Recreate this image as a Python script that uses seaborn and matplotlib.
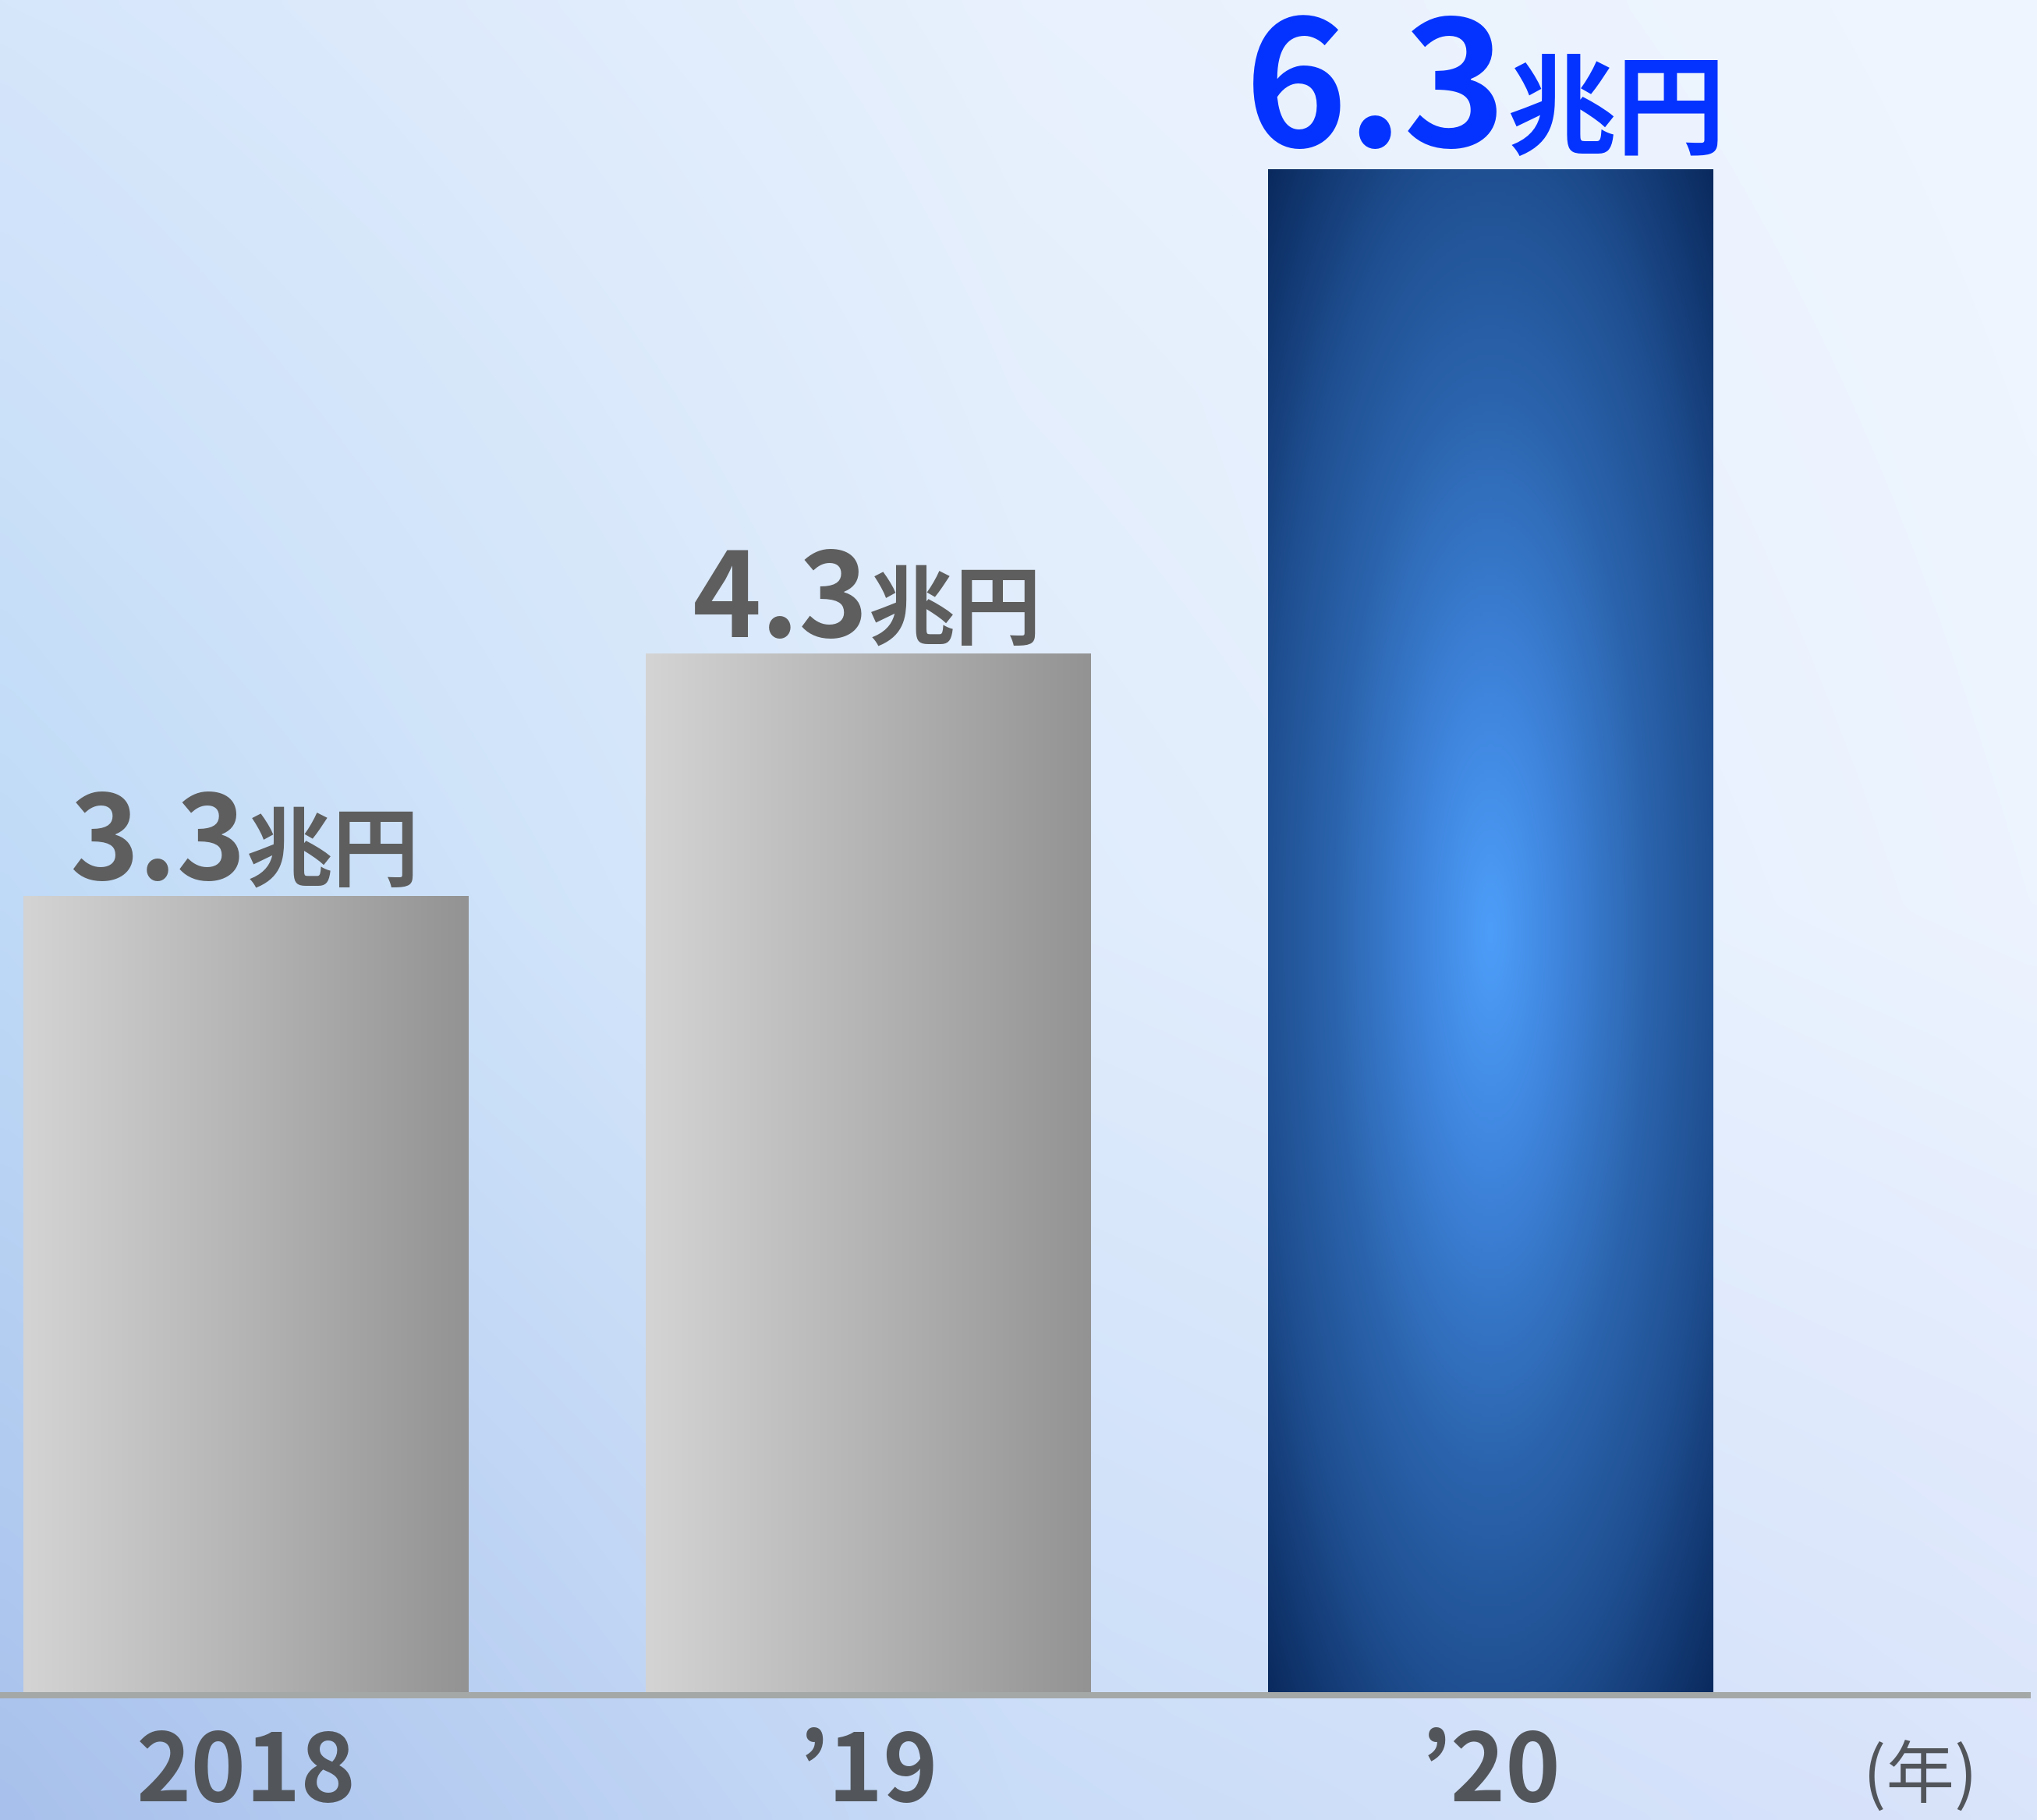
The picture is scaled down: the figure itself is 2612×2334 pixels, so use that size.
import numpy as np
import matplotlib
matplotlib.use("Agg")
import matplotlib.pyplot as plt
from matplotlib.colors import LinearSegmentedColormap, to_rgb
import seaborn as sns

# ---- data ----
years = ["2018", "\u201919", "\u201920"]
values = [3.3, 4.3, 6.3]
value_labels = ["3.3", "4.3", "6.3"]
unit_label = "兆円"
year_unit = "(年)"

sns.set_theme(style="white")
plt.rcParams['font.family'] = ['Noto Sans CJK JP', 'DejaVu Sans']

W, H = 2612, 2334
DPI = 100
fig = plt.figure(figsize=(W / DPI, H / DPI), dpi=DPI)

# ---- background gradient ----
bg_ax = fig.add_axes([0, 0, 1, 1], zorder=-10)
bg_ax.set_axis_off()
grid = np.array([
    [to_rgb("#d6e6fb"), to_rgb("#e8f1fd"), to_rgb("#f0f6ff")],
    [to_rgb("#bfdaf7"), to_rgb("#dfecfc"), to_rgb("#edf4ff")],
    [to_rgb("#a8c1ec"), to_rgb("#c9dcf8"), to_rgb("#dae4fb")],
])
ny, nx = 200, 200
yy = np.linspace(0, 2, ny)
xx = np.linspace(0, 2, nx)
img = np.zeros((ny, nx, 3))
for i, yv in enumerate(yy):
    r0 = min(int(yv), 1)
    fy = yv - r0
    for j, xv in enumerate(xx):
        c0 = min(int(xv), 1)
        fx = xv - c0
        top = grid[r0, c0] * (1 - fx) + grid[r0, c0 + 1] * fx
        bot = grid[r0 + 1, c0] * (1 - fx) + grid[r0 + 1, c0 + 1] * fx
        img[i, j] = top * (1 - fy) + bot * fy
bg_ax.imshow(img, extent=(0, 1, 0, 1), aspect='auto', interpolation='bicubic', origin='upper')
bg_ax.set_xlim(0, 1)
bg_ax.set_ylim(0, 1)

# ---- main axes ----
bottom_px = 2174
ax = fig.add_axes([0, (H - bottom_px) / H, 2600 / W, bottom_px / H])
ax.set_facecolor("none")
ax.patch.set_alpha(0)

bar_w = 0.7155
sns.barplot(x=years, y=values, width=bar_w, ax=ax, color="#999999", saturation=1)

grey_cmap = LinearSegmentedColormap.from_list("g", ["#d4d4d4", "#b4b4b4", "#939393"])
blue_cmap = LinearSegmentedColormap.from_list(
    "b", [(0.0, "#4d9ef9"), (0.22, "#3f85dd"), (0.5, "#2b64ad"), (0.72, "#1f4f91"), (1.0, "#0a2a5e")])

patches = list(ax.patches)
for k, p in enumerate(patches):
    x0, y0 = p.get_x(), p.get_y()
    w, h = p.get_width(), p.get_height()
    p.set_facecolor("none")
    p.set_edgecolor("none")
    if k < 2:
        grad = np.linspace(0, 1, 256)[None, :]
        im = ax.imshow(grad, cmap=grey_cmap, extent=(x0, x0 + w, y0, y0 + h),
                       aspect='auto', interpolation='bicubic', zorder=1, origin='lower')
    else:
        u = np.linspace(-1, 1, 300)[None, :]
        v = np.linspace(-1, 1, 400)[:, None]
        r = np.sqrt(u ** 2 + v ** 2) / np.sqrt(2)
        im = ax.imshow(r, cmap=blue_cmap, vmin=0, vmax=1, extent=(x0, x0 + w, y0, y0 + h),
                       aspect='auto', interpolation='bicubic', zorder=1, origin='lower')
    im.set_clip_path(p)

ax.set_xlim(-315.5 / 798, (2600 - 315.5) / 798)
ax.set_ylim(0, bottom_px / 310.6)

# value labels
num_sizes = [108, 108, 161]
unit_sizes = [80, 80, 101]
colors = ["#5e5e5e", "#5e5e5e", "#0433ff"]
gaps = [21, 21, 29]
for k, (val, lab) in enumerate(zip(values, value_labels)):
    ytxt = val + gaps[k] / 310.6
    xoff = 0.026 if k == 2 else 0.0
    ax.text(k + xoff, ytxt, lab, ha='right', va='baseline', fontsize=num_sizes[k],
            fontweight='bold', color=colors[k])
    ax.text(k + xoff, ytxt, unit_label, ha='left', va='baseline', fontsize=unit_sizes[k],
            fontweight='bold', color=colors[k])

# axis styling
for s in ["top", "left", "right"]:
    ax.spines[s].set_visible(False)
ax.spines["bottom"].set_color("#a4a8a7")
ax.spines["bottom"].set_linewidth(8 * 72 / DPI)
ax.set_yticks([])
ax.set_xlabel("")
ax.set_ylabel("")
base_px = 2310
ax.tick_params(axis='x', length=0, pad=(base_px - bottom_px) * 72 / DPI, labelsize=86,
               labelcolor="#52565b")
for t in ax.get_xticklabels():
    t.set_fontweight('bold')
    t.set_verticalalignment('baseline')

ax.text((2462 - 315.5) / 798, -(base_px - 4 - bottom_px) / 310.6, year_unit, ha='center', va='baseline',
        fontsize=63, color="#52565b", clip_on=False)

fig.savefig("out.png", dpi=DPI)
